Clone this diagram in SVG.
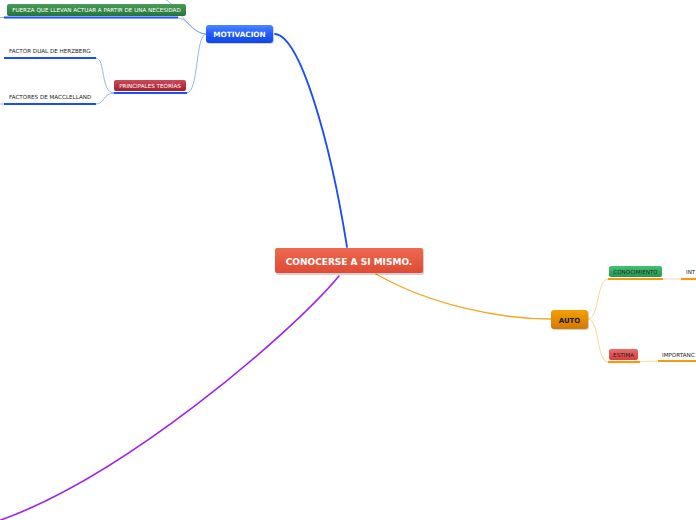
<svg xmlns="http://www.w3.org/2000/svg" width="696" height="520" viewBox="0 0 696 520">
<style>
.t{font-family:"DejaVu Sans",Verdana,sans-serif;}
.bw{font-weight:bold;fill:#fff;}
.sm{font-size:5.6px;fill:#222;}
.smw{font-size:5.6px;fill:#fff;}
.c{fill:none;stroke-linecap:round;}
.ub{stroke:#1a4dff;stroke-width:2.2;}
.uo{stroke:#f39c12;stroke-width:2.2;}
.sh{fill:#000;opacity:0.18;}
</style>
<defs>
<linearGradient id="gBlue" x1="0" y1="0" x2="0" y2="1"><stop offset="0" stop-color="#4d86ff"/><stop offset="0.5" stop-color="#1f5cff"/><stop offset="1" stop-color="#1146e6"/></linearGradient>
<linearGradient id="gRed" x1="0" y1="0" x2="0" y2="1"><stop offset="0" stop-color="#ec6a50"/><stop offset="1" stop-color="#e04a34"/></linearGradient>
<linearGradient id="gGreen" x1="0" y1="0" x2="0" y2="1"><stop offset="0" stop-color="#4a9d57"/><stop offset="1" stop-color="#24743a"/></linearGradient>
<linearGradient id="gCrim" x1="0" y1="0" x2="0" y2="1"><stop offset="0" stop-color="#cc4a5a"/><stop offset="1" stop-color="#a21e30"/></linearGradient>
<linearGradient id="gOr" x1="0" y1="0" x2="0" y2="1"><stop offset="0" stop-color="#f5a000"/><stop offset="1" stop-color="#d47800"/></linearGradient>
<linearGradient id="gGr2" x1="0" y1="0" x2="0" y2="1"><stop offset="0" stop-color="#48c074"/><stop offset="1" stop-color="#22994c"/></linearGradient>
<linearGradient id="gRd2" x1="0" y1="0" x2="0" y2="1"><stop offset="0" stop-color="#ef6a6a"/><stop offset="1" stop-color="#d63e3e"/></linearGradient>
</defs>
<rect width="696" height="520" fill="#fff"/>
<g id="connectors">
<path class="c" d="M275,34 C300,36 330,140 347,247" stroke="#1a4dff" stroke-width="1.8"/>
<path class="c" d="M339,276 C290,335 120,480 -5,522" stroke="#a020f0" stroke-width="1.6"/>
<path class="c" d="M376,274 C430,305 500,319 551,319" stroke="#f5a623" stroke-width="1.4"/>
<path class="c" d="M163,-2 C182,8 186,32 206,34" stroke="#7aa0ff" stroke-width="0.8"/>
<path class="c" d="M176,17.5 C190,18 192,34 206,34" stroke="#7aa0ff" stroke-width="0.8"/>
<path class="c" d="M187,93 C199,93 195,34 206,34" stroke="#7aa0ff" stroke-width="0.8"/>
<path class="c" d="M114,93 C100,93 106,58 96,58" stroke="#7aa0ff" stroke-width="0.8"/>
<path class="c" d="M114,93 C103,93 105,104 96,104" stroke="#7aa0ff" stroke-width="0.8"/>
<path class="c" d="M588,319 C600,319 596,279 608,279" stroke="#fcd08a" stroke-width="0.9"/>
<path class="c" d="M588,319 C600,319 596,362 608,362" stroke="#fcd08a" stroke-width="0.9"/>
<path class="c" d="M663,279 L681,279" stroke="#fcd8a8" stroke-width="1.2"/>
<path class="c" d="M640,361.5 L658,361" stroke="#fcd8a8" stroke-width="1.2"/>
<path d="M0,17.5 L4,17.5 M0,104 L4,104" stroke="#7aa0ff" stroke-width="0.8"/>
</g>
<g id="central">
<rect class="sh" x="276" y="249" width="148" height="26" rx="2"/>
<rect x="275" y="248" width="148" height="25" rx="2" fill="url(#gRed)"/>
<text class="t bw" x="349" y="265" font-size="9" text-anchor="middle">CONOCERSE A SI MISMO.</text>
</g>
<g id="motivacion">
<rect class="sh" x="207" y="26" width="67" height="18" rx="3"/>
<rect x="206" y="25" width="67" height="18" rx="3" fill="url(#gBlue)"/>
<text class="t bw" x="239.5" y="37" font-size="7.3" text-anchor="middle">MOTIVACION</text>
</g>
<g id="fuerza">
<rect x="7" y="4" width="179" height="12" rx="2" fill="url(#gGreen)"/>
<text class="t smw" x="96.5" y="12.3" text-anchor="middle">FUERZA QUE LLEVAN ACTUAR A  PARTIR DE UNA NECESIDAD</text>
<line class="ub" x1="4" y1="17.5" x2="178" y2="17.5"/>
</g>
<g id="principales">
<rect x="114" y="80" width="72" height="11" rx="2" fill="url(#gCrim)"/>
<text class="t smw" x="150" y="87.8" text-anchor="middle">PRINCIPALES TEORÍAS</text>
<line class="ub" x1="114" y1="93" x2="187" y2="93"/>
</g>
<g id="herzberg">
<text class="t sm" x="9" y="52.5">FACTOR DUAL DE HERZBERG</text>
<line class="ub" x1="4" y1="58" x2="96" y2="58"/>
</g>
<g id="macclelland">
<text class="t sm" x="9" y="98.5">FACTORES DE MACCLELLAND</text>
<line class="ub" x1="4" y1="104" x2="96" y2="104"/>
</g>
<g id="auto">
<rect class="sh" x="552" y="311" width="37" height="19" rx="3"/>
<rect x="551" y="310" width="37" height="19" rx="3" fill="url(#gOr)"/>
<text class="t" x="569.5" y="322.5" font-size="7" font-weight="bold" fill="#1a1a1a" text-anchor="middle">AUTO</text>
</g>
<g id="conocimiento">
<rect x="609" y="266" width="53" height="11" rx="2" fill="url(#gGr2)"/>
<text class="t sm" x="635.5" y="273.8" text-anchor="middle">CONOCIMIENTO</text>
<line class="uo" x1="608" y1="279" x2="663" y2="279"/>
</g>
<g id="int">
<text class="t sm" x="686" y="273.5">INT</text>
<line class="uo" x1="681" y1="279" x2="700" y2="279"/>
</g>
<g id="estima">
<rect x="609" y="349" width="29" height="11" rx="2" fill="url(#gRd2)"/>
<text class="t sm" x="623.5" y="357" text-anchor="middle">ESTIMA</text>
<line class="uo" x1="608" y1="362" x2="640" y2="362"/>
</g>
<g id="importanc">
<text class="t sm" x="662" y="356.5">IMPORTANC</text>
<line class="uo" x1="658" y1="361" x2="700" y2="361"/>
</g>
</svg>
